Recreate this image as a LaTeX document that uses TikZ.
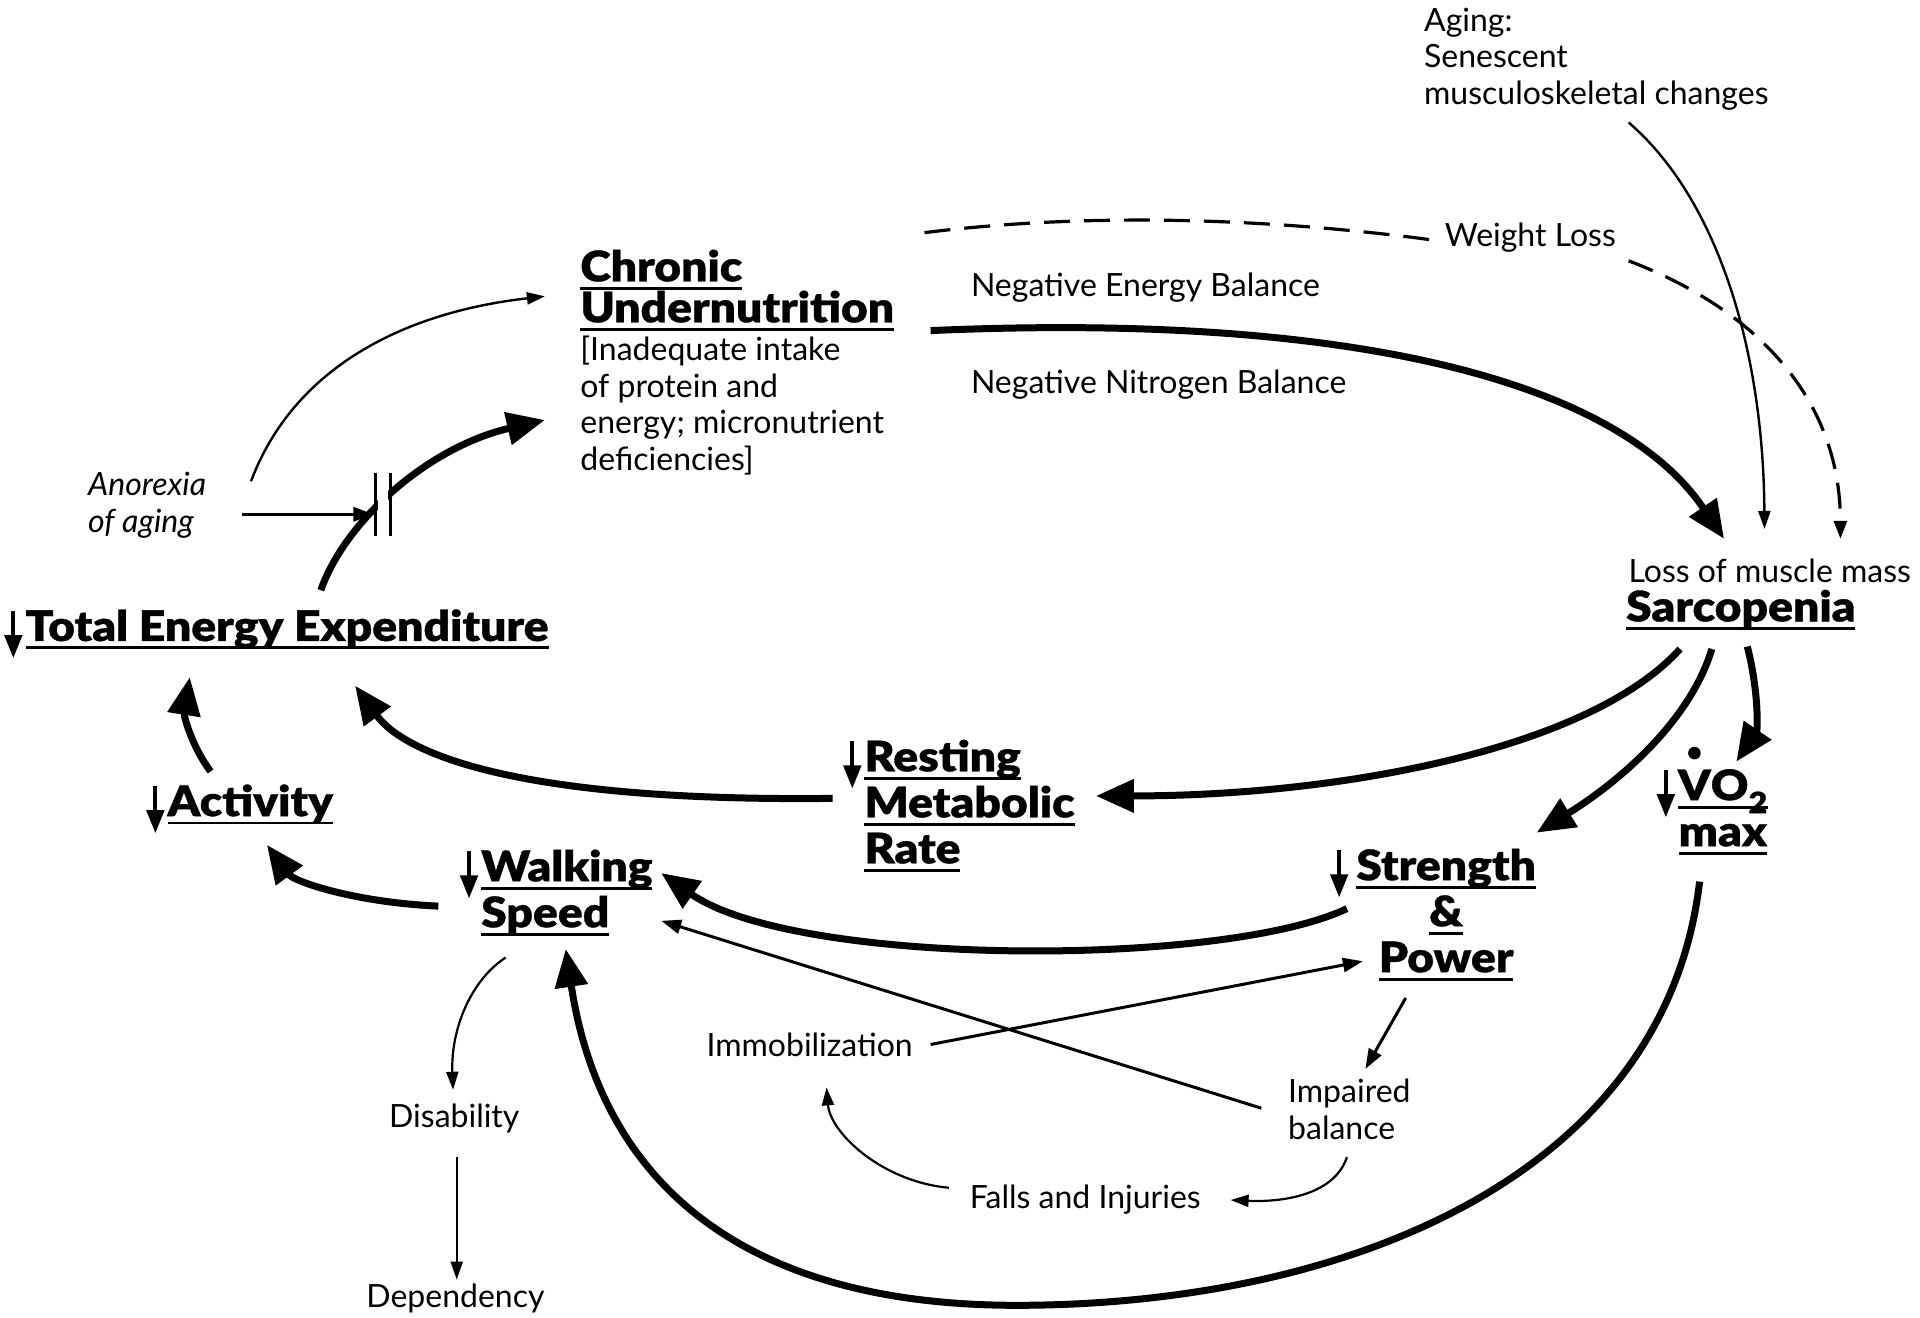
\documentclass[tikz,border=0pt]{standalone}
\usepackage{fontspec}
\usepackage{graphicx}
\usepackage{pict2e}
\setmainfont{Lato}[BoldFont={Lato Black}, BoldFeatures={FakeStretch=1.1, FakeBold=0.8}]
\usetikzlibrary{arrows.meta}

% underline at a fixed depth below the baseline
\newcommand\ulx[1]{\leavevmode\setbox0\hbox{#1}\rlap{\rule[-0.2em]{\wd0}{0.07em}}\box0}
% slim "decrease" arrow in front of a heading
\newcommand\dn{{\setlength{\unitlength}{0.01em}\begin{picture}(46,0)
  \put(18,-12){\rule{0.1em}{0.84em}}
  \polygon*(1,14)(45,14)(23,-40)
\end{picture}\hspace{0.06em}}}
% V with a dot above (rate)
\newcommand\vdot{\leavevmode\setbox2\hbox{V}\rlap{\hbox to\wd2{\hss{\setlength{\unitlength}{0.01em}\begin{picture}(0,0)\put(0,112){\circle*{30}}\end{picture}}\hss}}\box2}

\tikzset{
  every node/.style={inner sep=0pt, outer sep=0pt},
  txt/.style={font=\fontsize{32}{36.5}\selectfont, align=left},
  hd/.style={font=\fontsize{42}{46}\selectfont\bfseries, align=left},
  bigarrow/.style={line width=7pt, -{Triangle[length=38pt,width=32pt]}},
  medarrow/.style={line width=3pt, -{Triangle[length=20pt,width=14pt]}},
  smallarrow/.style={line width=2.2pt, -{Triangle[length=18pt,width=12pt]}},
  weightline/.style={line width=3.2pt, dash pattern=on 26pt off 14pt},
}

\begin{document}
\begin{tikzpicture}[x=1.2245pt,y=-1.2245pt]
\fill[white] (0,0) rectangle (1568,1076);
\useasboundingbox (0,0) rectangle (1568,1076);

% ---------- nodes ----------
\node[txt, anchor=west] (aging) at (1163,48) {Aging:\\Senescent\\musculoskeletal changes};
\node[txt, anchor=west] (weight) at (1180,194) {Weight Loss};
\node[txt, anchor=west] (neb) at (793,235) {Negative Energy Balance};
\node[txt, anchor=west] (nnb) at (793,314) {Negative Nitrogen Balance};
\node[hd, anchor=west, font=\fontsize{42}{41}\selectfont\bfseries] (chronic) at (474,237) {\ulx{Chronic}\\\ulx{Undernutrition}};
\node[txt, anchor=west] (chronicsub) at (474,331) {[Inadequate intake\\of protein and\\energy; micronutrient\\deficiencies]};
\node[txt, anchor=west, font=\fontsize{32}{37}\selectfont\itshape] (anorexia) at (72,413) {Anorexia\\of aging};
\node[txt, anchor=west] (musc) at (1330,466) {Loss of muscle mass};
\node[hd, anchor=west] (sarc) at (1328,498) {\ulx{Sarcopenia}};
\node[hd, anchor=west] (tee) at (3,514) {\dn\ulx{Total Energy Expenditure}};
\node[hd, anchor=west] (rmr) at (706,658) {\llap{\dn}\ulx{Resting}\\\ulx{Metabolic}\\\ulx{Rate}};
\node[hd, anchor=west] (activity) at (119,657) {\dn\ulx{Activity}};
\node[hd, anchor=west] (walking) at (393,729) {\llap{\dn}\ulx{Walking}\\\ulx{Speed}};
\node[hd, align=center] (strength) at (1181,747) {\llap{\dn\hspace{5pt}}\ulx{Strength}\\\ulx{\&}\\\ulx{Power}};
\node[hd, align=center] (vo2) at (1407,663) {\llap{\dn}\ulx{\vdot O\textsubscript{2}}\\\ulx{max}};
\node[txt, anchor=west] (immob) at (577,853) {Immobilization};
\node[txt, anchor=west] (impaired) at (1052,906) {Impaired\\balance};
\node[txt, anchor=west] (falls) at (792,980) {Falls and Injuries};
\node[txt] (disab) at (371,913) {Disability};
\node[txt] (depend) at (372,1060) {Dependency};

% ---------- connectors ----------
% undernutrition -> sarcopenia
\draw[bigarrow] ([shift={(286,33)}]chronic.west) .. controls +(340,-15) and +(-88,-130) .. ([shift={(78,-26)}]musc.west);
% aging -> sarcopenia
\draw[smallarrow, line width=2.4pt] ([shift={(167,52)}]aging.west) .. controls +(70,60) and +(-1,-152) .. ([shift={(111,-34)}]musc.west);
% weight loss (dashed)
\draw[weightline] ([shift={(281,-47)}]chronic.west) .. controls +(145,-18) and +(-120,-16) .. ([shift={(-10,2)}]weight.west);
\draw[weightline, -{Triangle[length=18pt,width=13pt]}] ([shift={(150,19)}]weight.west) .. controls +(110,42) and +(0,-110) .. ([shift={(173,-26)}]musc.west);
% anorexia -> undernutrition
\draw[smallarrow, line width=2.4pt] ([shift={(133,-20)}]anorexia.west) .. controls +(35,-93) and +(-115,13) .. ([shift={(-29,5)}]chronic.west);
% total energy expenditure -> undernutrition, blocked by anorexia
\draw[bigarrow] ([shift={(259,-32)}]tee.west) .. controls +(20,-57) and +(-95,22) .. ([shift={(-29,12)}]chronicsub.west);
\fill[white] (308.8,392) rectangle (317.2,440);
\draw[line width=3pt] (307,386) -- (307,438) (319,386) -- (319,438);
\coordinate (bar) at (305,420);
\draw[medarrow] ([shift={(126,7)}]anorexia.west) -- (bar);
% sarcopenia -> its consequences
\draw[bigarrow] ([shift={(44,32)}]sarc.west) .. controls +(-72,80) and +(205,0) .. ([shift={(189,-8)}]rmr.west);
\draw[bigarrow] ([shift={(70,32)}]sarc.west) .. controls +(-18,60) and +(65,-40) .. ([shift={(74,-67)}]strength.center);
\draw[bigarrow] ([shift={(99,30)}]sarc.west) .. controls +(10,40) and +(17,-25) .. ([shift={(11,-41)}]vo2.center);
% resting metabolic rate -> total energy expenditure
\draw[bigarrow] ([shift={(-26,-6)}]rmr.west) .. controls +(-260,3) and +(40,55) .. ([shift={(287,46)}]tee.west);
% activity -> total energy expenditure
\draw[bigarrow] ([shift={(53,-27)}]activity.west) .. controls +(-15,-20) and +(-5,32) .. ([shift={(152,39)}]tee.west);
% walking speed -> activity
\draw[bigarrow] ([shift={(-35,11)}]walking.west) .. controls +(-68,-3) and +(22,30) .. ([shift={(99,33)}]activity.west);
% strength -> walking speed
\draw[bigarrow] ([shift={(-81,-5)}]strength.center) .. controls +(-100,48) and +(110,77) .. ([shift={(147,-16)}]walking.west);
% VO2 max -> walking speed
\draw[bigarrow] ([shift={(-19,57)}]vo2.center) .. controls +(-28,240) and +(270,0) .. (830,1066) .. controls +(-230,0) and +(28,185) .. ([shift={(69,46)}]walking.west);
% immobilization -> strength & power
\draw[medarrow] ([shift={(183,0)}]immob.west) -- ([shift={(-68,38)}]strength.center);
% impaired balance -> walking speed
\draw[medarrow] ([shift={(-22,-1)}]impaired.west) -- ([shift={(147,23)}]walking.west);
% strength & power -> impaired balance
\draw[medarrow] ([shift={(-33,68)}]strength.center) -- ([shift={(63,-33)}]impaired.west);
% impaired balance -> falls
\draw[smallarrow] ([shift={(48,39)}]impaired.west) .. controls +(-10,30) and +(45,2) .. ([shift={(213,0)}]falls.west);
% falls -> immobilization
\draw[smallarrow] ([shift={(-17,-10)}]falls.west) .. controls +(-55,-5) and +(3,37) .. ([shift={(98,35)}]immob.west);
% walking speed -> disability -> dependency
\draw[smallarrow] ([shift={(20,53)}]walking.west) .. controls +(-28,18) and +(-2,-50) .. ([shift={(-1,-23)}]disab.center);
\draw[smallarrow] ([shift={(2,32)}]disab.center) -- ([shift={(1,-15)}]depend.center);
\end{tikzpicture}
\end{document}
